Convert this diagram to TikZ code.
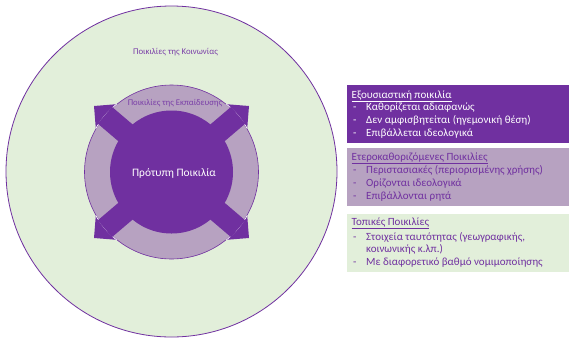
\documentclass[tikz,border=0pt]{standalone}
\usepackage{fontspec}
\setmainfont{Carlito}
\usetikzlibrary{calc}
\definecolor{dpurple}{HTML}{7030A0}
\definecolor{lpurple}{HTML}{B7A2C1}
\definecolor{lgreen}{HTML}{E2EFDA}
\definecolor{tpurple}{HTML}{7A3FA8}
\begin{document}
\begin{tikzpicture}[x=1pt,y=-1pt,
  boxtxt/.style={anchor=base west, inner sep=0, font=\fontsize{11}{12}\selectfont},
  dashtxt/.style={anchor=base west, inner sep=0, font=\fontsize{11}{12}\selectfont},
  panel/.style={rectangle, anchor=north west, inner sep=0, minimum width=222pt, minimum height=58pt},
  arrowfill/.style={fill=dpurple}]
\useasboundingbox (0,0) rectangle (569,338);
\fill[white] (0,0) rectangle (569,338);
\coordinate (C) at (171.5,172);
% outer circle
\node[circle, draw=dpurple, line width=0.8pt, fill=lgreen, minimum size=331pt, inner sep=0] (soc) at (171.5,171.5) {};
% arrow heads (partly hidden by the ring)
\foreach \sx/\sy/\n in {-1/-1/a, 1/-1/b, -1/1/c, 1/1/d}{
  \coordinate (tip\n) at ($(C)+(\sx*77.5,\sy*66)$);
  \coordinate (h1\n) at ($(tip\n)!34pt!45:(C)$);
  \coordinate (h2\n) at ($(tip\n)!34pt!-45:(C)$);
  \fill[arrowfill] (tip\n) -- (h1\n) -- (h2\n) -- cycle;
}
% ring
\node[circle, draw=dpurple, line width=0.6pt, fill=lpurple, minimum size=174pt, inner sep=0] (edu) at (C) {};
% light edge of the ring across the arrow heads
\foreach \n in {a,b,c,d}{
  \begin{scope}
    \clip (tip\n) -- (h1\n) -- (h2\n) -- cycle;
    \draw[white, line width=0.7pt] (C) circle[radius=87.3];
  \end{scope}
}
% arrow shafts
\foreach \n in {a,b,c,d}{
  \coordinate (bm\n) at ($(C)!0.86!(tip\n)$);
  \fill[arrowfill] ($(C)!11pt!90:(bm\n)$) -- ($(bm\n)!11pt!-90:(C)$) -- ($(bm\n)!11pt!90:(C)$) -- ($(C)!11pt!-90:(bm\n)$) -- cycle;
}
% inner circle
\node[circle, fill=dpurple, minimum size=123pt, inner sep=0] (std) at (C) {};
\node[text=white, inner sep=0, font=\fontsize{11.4}{13}\selectfont] (stdlbl) at (174,173) {Πρότυπη Ποικιλία};
\node[text=tpurple, inner sep=0, font=\fontsize{8.7}{10}\selectfont] (edulbl) at (175,103) {Ποικιλίες της Εκπαίδευσης};
\node[text=tpurple, inner sep=0, font=\fontsize{8.8}{10}\selectfont] (soclbl) at (175.5,52.5) {Ποικιλίες της Κοινωνίας};
% panels
\node[panel, fill=dpurple] (p1) at (347,85) {};
\node[panel, fill=lpurple] (p2) at (347,148) {};
\node[panel, fill=lgreen] (p3) at (347,214) {};
% panel 1 text
\begin{scope}[every node/.append style={text=white}]
\node[boxtxt] (t1) at (351.5,98) {\underline{Εξουσιαστική ποικιλία}};
\node[dashtxt] (d11) at (353,110.8) {-};
\node[boxtxt] (l11) at (366,110.8) {Καθορίζεται αδιαφανώς};
\node[dashtxt] (d12) at (353,123.6) {-};
\node[boxtxt] (l12) at (366,123.6) {Δεν αμφισβητείται (ηγεμονική θέση)};
\node[dashtxt] (d13) at (353,136.4) {-};
\node[boxtxt] (l13) at (366,136.4) {Επιβάλλεται ιδεολογικά};
\end{scope}
% panel 2 text
\begin{scope}[every node/.append style={text=dpurple}]
\node[boxtxt] (t2) at (351.5,160) {\underline{Ετεροκαθοριζόμενες Ποικιλίες}};
\node[dashtxt] (d21) at (353,173.8) {-};
\node[boxtxt] (l21) at (366,173.8) {Περιστασιακές (περιορισμένης χρήσης)};
\node[dashtxt] (d22) at (353,186.6) {-};
\node[boxtxt] (l22) at (366,186.6) {Ορίζονται ιδεολογικά};
\node[dashtxt] (d23) at (353,199.4) {-};
\node[boxtxt] (l23) at (366,199.4) {Επιβάλλονται ρητά};
% panel 3 text
\node[boxtxt] (t3) at (351.5,225) {\underline{Τοπικές Ποικιλίες}};
\node[dashtxt] (d31) at (353,240.5) {-};
\node[boxtxt] (l31) at (366,240.5) {Στοιχεία ταυτότητας (γεωγραφικής,};
\node[boxtxt] (l31b) at (366,252.8) {κοινωνικής κ.λπ.)};
\node[dashtxt] (d32) at (353,265.6) {-};
\node[boxtxt] (l32) at (366,265.6) {Με διαφορετικό βαθμό νομιμοποίησης};
\end{scope}
\end{tikzpicture}
\end{document}
